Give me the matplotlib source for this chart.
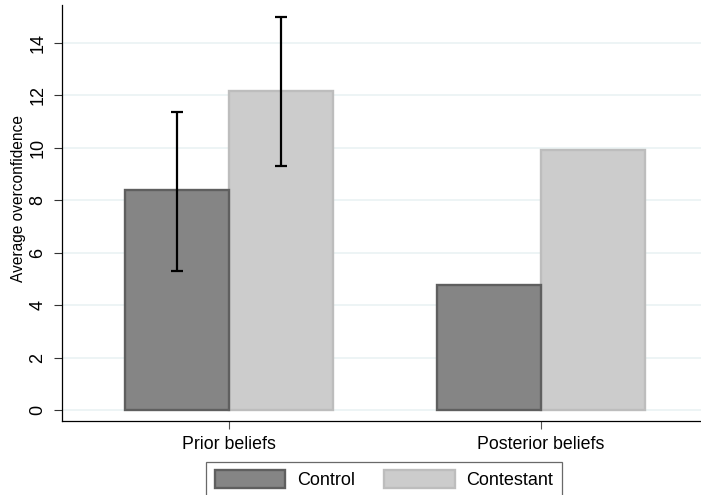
import numpy as np
import matplotlib
matplotlib.use("Agg")
import matplotlib.pyplot as plt

plt.rcParams['font.family'] = ['Liberation Sans', 'DejaVu Sans']

# data
categories = ['Prior beliefs', 'Posterior beliefs']
groups = ['Control', 'Contestant']
control = [8.4, 4.77]
contestant = [12.17, 9.9]
control_lo = [5.3, np.nan]
control_hi = [11.36, np.nan]
contestant_lo = [9.31, np.nan]
contestant_hi = [14.99, np.nan]
yticks = [0, 2, 4, 6, 8, 10, 12, 14]

fill = {'Control': '#858585', 'Contestant': '#cccccc'}
edge = {'Control': '#5f5f5f', 'Contestant': '#bdbdbd'}

fig = plt.figure(figsize=(7.01, 4.95), dpi=100)
ax = fig.add_axes([61.5 / 701, 1 - 421 / 495, 1 - 61.5 / 701, (421 - 5) / 495])

x = np.arange(len(categories))
w = 1 / 3
series = {'Control': (control, control_lo, control_hi),
          'Contestant': (contestant, contestant_lo, contestant_hi)}
offsets = {'Control': -w / 2, 'Contestant': w / 2}

for name in ['Contestant', 'Control']:
    vals, lo, hi = series[name]
    pos = x + offsets[name]
    ax.bar(pos, vals, width=w, color=fill[name], edgecolor=edge[name],
           linewidth=1.7, label=name, zorder=2)

# confidence intervals only where given
for name in groups:
    vals, lo, hi = series[name]
    pos = x + offsets[name]
    lo = np.array(lo)
    hi = np.array(hi)
    ok = ~np.isnan(lo)
    mid = (lo + hi) / 2
    ax.errorbar(pos[ok], mid[ok], yerr=((hi - lo) / 2)[ok], fmt='none',
                ecolor='black', elinewidth=1.6, capsize=4.2, capthick=1.6, zorder=4)

ax.set_xlim(-0.536, 1.514)
ax.set_ylim(-0.42, 15.44)
ax.set_xticks(x)
ax.set_xticklabels(categories, fontsize=12.8)
ax.set_yticks(yticks)
ax.set_yticklabels([str(t) for t in yticks], fontsize=13, rotation=90, va='center')
ax.tick_params(axis='y', length=6, width=0.8, color='#333333', pad=5)
ax.tick_params(axis='x', length=6, width=0.8, color='#555555', pad=5)

ax.yaxis.grid(True, color='#eaf2f3', linewidth=1.2, zorder=0)
ax.set_axisbelow(True)
for s in ['top', 'right']:
    ax.spines[s].set_visible(False)
for s in ['left', 'bottom']:
    ax.spines[s].set_linewidth(0.9)
    ax.spines[s].set_color('black')

fig.text(18.5 / 701, 1 - 198 / 495, 'Average overconfidence', rotation=90,
         ha='center', va='center', fontsize=11.2)

handles, labels = ax.get_legend_handles_labels()
order = [labels.index(g) for g in groups]
leg = fig.legend([handles[i] for i in order], [labels[i] for i in order],
                 loc='upper center', bbox_to_anchor=(384 / 701, 1 - 462 / 495),
                 ncol=2, fontsize=13, frameon=True, fancybox=False,
                 handlelength=3.9, handleheight=1.15, handletextpad=0.65,
                 columnspacing=1.65, borderpad=0.45, borderaxespad=0)
leg.get_frame().set_edgecolor('#444444')
leg.get_frame().set_linewidth(0.9)

fig.savefig('out.png', dpi=100)
